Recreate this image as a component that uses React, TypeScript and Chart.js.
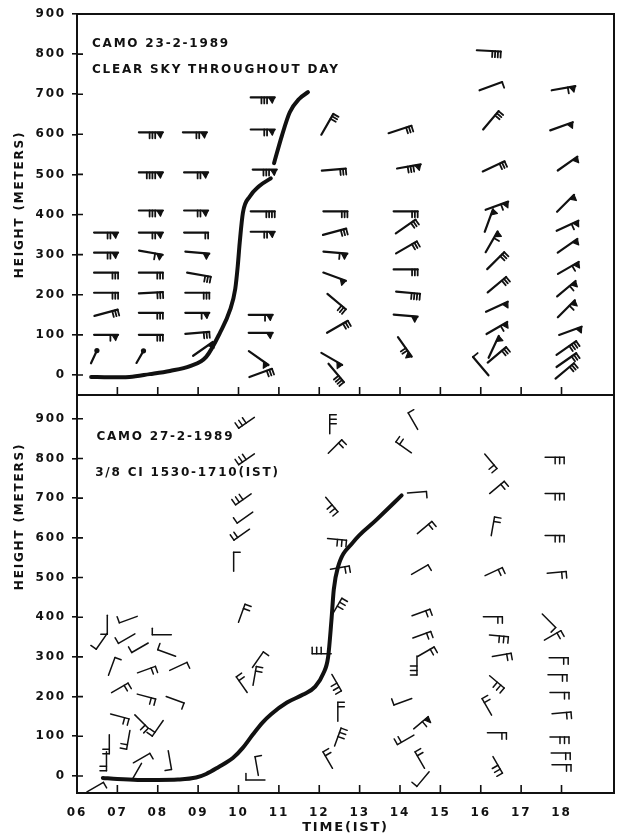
import React, { useEffect, useRef } from 'react';
import { Chart, registerables } from 'chart.js';

Chart.register(...registerables);

const FONT_FAMILY = "'DejaVu Sans', 'Liberation Sans', sans-serif";
const INK = '#111111';

// ---------- axes ----------
const TIME_MIN = 6;
const TIME_MAX = 19.3;
const timeTicks = [6, 7, 8, 9, 10, 11, 12, 13, 14, 15, 16, 17, 18];
const timeTickLabels = ['06', '07', '08', '09', '10', '11', '12', '13', '14', '15', '16', '17', '18'];
const heightTicks = [0, 100, 200, 300, 400, 500, 600, 700, 800, 900];

// ---------- top panel : CAMO 23-2-1989 ----------
const topMixTime = [6.35, 6.8, 7.3, 7.8, 8.3, 8.8, 9.2, 9.54, 9.79, 9.92, 9.98, 10.03, 10.11, 10.28, 10.5, 10.8, 10.83, 10.88, 11.07, 11.27, 11.5, 11.72];
const topMixHeight = [-5, -6, -5, 2, 10, 22, 45, 105, 162, 215, 270, 330, 405, 445, 470, 490, null, 528, 595, 655, 688, 705];

const topBarbTime = [
  6.72, 6.72, 6.72, 6.72, 6.72, 6.72,
  7.83, 7.83, 7.83, 7.83, 7.83, 7.83, 7.83, 7.83, 7.83,
  8.92, 8.95, 8.95, 8.95, 8.98, 9.02, 8.98, 8.98, 8.98, 9.12,
  10.6, 10.6, 10.65, 10.6, 10.6, 10.55, 10.55, 10.5, 10.55,
  12.2, 12.36, 12.4, 12.38, 12.4, 12.38, 12.43, 12.45, 12.31, 12.42,
  14.0, 14.22, 14.14, 14.14, 14.16, 14.14, 14.2, 14.14, 14.12,
  16.2, 16.25, 16.25, 16.32, 16.4, 16.2, 16.27, 16.37, 16.4, 16.4, 16.4, 16.32, 16.4, 16.0,
  18.05, 18.0, 18.15, 18.1, 18.15, 18.15, 18.17, 18.12, 18.12, 18.22, 18.12, 18.12, 18.08,
];
const topBarbHeight = [
  355, 305, 255, 205, 155, 100,
  605, 505, 410, 355, 305, 255, 205, 155, 100,
  605, 505, 410, 355, 305, 250, 205, 155, 105, 65,
  692, 612, 512, 408, 357, 150, 105, 42, 5,
  625, 512, 408, 357, 305, 245, 183, 120, 40, 5,
  612, 520, 408, 370, 318, 263, 205, 148, 70,
  808, 720, 635, 520, 422, 385, 332, 285, 225, 170, 117, 70, 50, 22,
  715, 620, 527, 428, 372, 322, 267, 215, 165, 110, 67, 37, 10,
];
const topBarbDir = [
  0, 0, 0, 0, 15, 0,
  0, 0, 0, 0, -10, 0, 3, 0, 0,
  0, 0, 0, 0, -5, -10, 0, 0, 5, 35,
  0, 0, 0, 0, 0, 0, 0, -35, 20,
  60, 5, 0, 15, -5, -20, -40, 30, -30, -50,
  18, 10, 0, 35, 30, 0, -5, -5, -55,
  -3, 20, 50, 25, 20, 70, 60, 45, 40, 25, 30, 65, 40, 130,
  10, 20, 35, 45, 25, 35, 30, 40, 45, 20, 35, 35, 40,
];
const topBarbTicks = [
  2, 2, 3, 3, 3, 1,
  3, 4, 3, 2, 1, 3, 3, 3, 3,
  2, 2, 2, 2, 0, 3, 3, 1, 3, 0,
  3, 2, 3, 4, 2, 1, 0, 0, 3,
  3, 3, 3, 3, 1, 0, 3, 3, 0, 4,
  3, 3, 3, 3, 3, 3, 4, 0, 2,
  4, 1, 3, 3, 1, 0, 1, 3, 3, 0, 1, 0, 3, 1,
  1, 0, 0, 0, 1, 0, 1, 1, 1, 0, 4, 3, 3,
];
const topBarbFlags = [
  1, 1, 0, 0, 0, 1,
  1, 1, 1, 1, 1, 0, 0, 0, 0,
  1, 1, 1, 0, 1, 0, 0, 1, 0, 1,
  1, 1, 1, 0, 1, 1, 1, 1, 0,
  0, 0, 0, 0, 1, 1, 0, 0, 1, 0,
  0, 1, 0, 0, 0, 0, 0, 1, 1,
  0, 0, 0, 0, 1, 1, 1, 0, 0, 1, 1, 1, 0, 0,
  1, 1, 1, 1, 1, 1, 1, 1, 1, 1, 0, 0, 0,
];
const topCalmTime = [6.42, 7.56];
const topCalmHeight = [45, 45];
const topCalmDir = [65, 60];

// ---------- bottom panel : CAMO 27-2-1989 ----------
const botMixTime = [6.64, 7.0, 7.5, 8.0, 8.5, 8.95, 9.2, 9.5, 9.86, 10.1, 10.36, 10.6, 10.8, 11.2, 11.6, 11.9, 12.1, 12.22, 12.3, 12.36, 12.46, 12.83, 13.42, 14.04];
const botMixHeight = [-5, -8, -10, -10, -9, -4, 5, 22, 45, 70, 105, 135, 155, 185, 205, 225, 258, 300, 390, 470, 525, 588, 646, 707];

const botBarbTime = [
  6.75, 7.27, 6.61, 7.23, 8.1, 6.86, 7.56, 8.22, 7.72, 8.51, 7.06, 7.72, 8.43, 7.06, 7.6, 8.0, 6.8, 6.73, 7.27, 7.6, 7.48, 8.3, 6.45,
  10.2, 10.2, 10.12, 10.16, 10.08, 9.88, 10.08, 10.48, 10.4, 10.08, 10.45, 10.42,
  12.26, 12.39, 12.31, 12.44, 12.51, 12.44, 12.06, 12.43, 12.46, 12.46, 12.21,
  14.32, 14.09, 14.42, 14.61, 14.49, 14.52, 14.54, 14.64, 14.42, 14.07, 14.52, 14.14, 14.49, 14.57,
  16.25, 16.4, 16.3, 16.32, 16.3, 16.45, 16.52, 16.4, 16.15, 16.4, 16.42,
  17.83, 17.83, 17.83, 17.88, 17.69, 17.78, 17.93, 17.9, 17.95, 18.0, 17.95, 17.98, 18.0,
];
const botBarbHeight = [
  381, 394, 339, 346, 356, 276, 323, 310, 268, 276, 222, 200, 192, 150, 137, 120, 80, 37, 91, 45, 11, 40, -28,
  890, 798, 697, 651, 608, 540, 410, 293, 252, 230, 25, -10,
  886, 830, 684, 596, 525, 427, 308, 235, 162, 98, 40,
  894, 828, 715, 626, 520, 412, 356, 313, 278, 187, 134, 91, 40, -8,
  793, 727, 629, 515, 401, 353, 305, 237, 174, 109, 28,
  803, 712, 606, 513, 391, 354, 298, 255, 210, 159, 98, 58, 28,
];
const botBarbDir = [
  -90, 200, 235, 210, 180, 70, 210, 160, 20, 25, 30, -15, -20, -15, -45, 235, -90, -90, -100, 30, 60, -80, 30,
  215, 215, 215, 215, 215, 90, 70, 55, 80, 125, 100, 180,
  90, 45, -50, -5, 10, 60, 180, -60, 90, 70, 120,
  120, 145, 5, 40, 30, 20, 20, 30, -90, -160, 40, -150, 120, -130,
  -50, 40, 80, 25, 0, -5, 10, -40, 120, 0, -60,
  0, 0, 0, 5, -45, 30, 0, 0, 0, 5, 0, 0, 0,
];
const botBarbTicks = [
  1, 1, 1, 1, 1, 1, 1, 1, 2, 1, 2, 2, 1, 2, 2, 2, 2, 2, 2, 1, 0, 1, 1,
  3, 3, 3, 1, 2, 1, 2, 1, 2, 2, 1, 1,
  3, 2, 3, 3, 2, 3, 3, 3, 2, 3, 2,
  1, 2, 1, 2, 1, 2, 2, 2, 3, 1, 1, 2, 2, 1,
  2, 2, 2, 2, 2, 3, 2, 3, 2, 2, 3,
  3, 3, 3, 2, 1, 2, 2, 2, 2, 2, 3, 2, 2,
];
const botBarbFlags = [
  0, 0, 0, 0, 0, 0, 0, 0, 0, 0, 0, 0, 0, 0, 0, 0, 0, 0, 0, 0, 0, 0, 0,
  0, 0, 0, 0, 0, 0, 0, 0, 0, 0, 0, 0,
  0, 0, 0, 0, 0, 0, 0, 0, 0, 0, 0,
  0, 0, 0, 0, 0, 0, 0, 0, 0, 0, 1, 0, 0, 0,
  0, 0, 0, 0, 0, 0, 0, 0, 0, 0, 0,
  0, 0, 0, 0, 0, 0, 0, 0, 0, 0, 0, 0, 0,
];

// ---------- drawing styles ----------
const TOP_BARB = { len: 24, tick: 6, gap: 2.8, flagW: 6, staff: 2.2, tickW: 1.8 };
const BOT_BARB = { len: 19, tick: 6.5, gap: 4.5, flagW: 5, staff: 1.5, tickW: 1.5 };
const CALM_BARB = { len: 14, tick: 0, gap: 0, flagW: 0, staff: 2.2, tickW: 2, dot: 2.6 };
const LETTER_SPACING = '1.8px';

function drawBarb(ctx: CanvasRenderingContext2D, cx: number, cy: number, deg: number, ticks: number, flags: number, s: any) {
  const a = (deg * Math.PI) / 180;
  const dx = Math.cos(a);
  const dy = -Math.sin(a);
  const nx = -dy;
  const ny = dx;
  const hx = cx + (dx * s.len) / 2;
  const hy = cy + (dy * s.len) / 2;
  const tx = cx - (dx * s.len) / 2;
  const ty = cy - (dy * s.len) / 2;
  ctx.strokeStyle = INK;
  ctx.fillStyle = INK;
  ctx.lineCap = 'round';
  ctx.lineJoin = 'round';
  ctx.lineWidth = s.staff;
  ctx.beginPath();
  ctx.moveTo(tx, ty);
  ctx.lineTo(hx, hy);
  ctx.stroke();
  if (s.dot) {
    ctx.beginPath();
    ctx.arc(hx, hy, s.dot, 0, Math.PI * 2);
    ctx.fill();
  }
  let pos = 0;
  for (let i = 0; i < flags; i++) {
    const p0x = hx - dx * pos, p0y = hy - dy * pos;
    const p1x = hx - dx * (pos + s.flagW), p1y = hy - dy * (pos + s.flagW);
    const apx = hx - dx * (pos + s.flagW * 0.4) + nx * s.tick * 0.95;
    const apy = hy - dy * (pos + s.flagW * 0.4) + ny * s.tick * 0.95;
    ctx.beginPath();
    ctx.moveTo(p0x, p0y);
    ctx.lineTo(p1x, p1y);
    ctx.lineTo(apx, apy);
    ctx.closePath();
    ctx.fill();
    ctx.lineWidth = 1.2;
    ctx.stroke();
    pos += s.flagW + s.gap * 0.6;
  }
  ctx.lineWidth = s.tickW;
  for (let i = 0; i < ticks; i++) {
    const px = hx - dx * pos, py = hy - dy * pos;
    ctx.beginPath();
    ctx.moveTo(px, py);
    ctx.lineTo(px + nx * s.tick, py + ny * s.tick);
    ctx.stroke();
    pos += s.gap;
  }
}

const barbPlugin = {
  id: 'windBarbs',
  afterDatasetsDraw(chart: any) {
    const ctx = chart.ctx;
    chart.data.datasets.forEach((ds: any, di: number) => {
      if (!ds.barb) return;
      const meta = chart.getDatasetMeta(di);
      ctx.save();
      meta.data.forEach((pt: any, i: number) => {
        const b = ds.barb;
        drawBarb(ctx, pt.x, pt.y, b.dir[i], b.ticks ? b.ticks[i] : 0, b.flags ? b.flags[i] : 0, b.style);
      });
      ctx.restore();
    });
  },
};

const spacingPlugin = {
  id: 'letterSpacing',
  beforeDraw(chart: any) {
    chart.ctx.letterSpacing = LETTER_SPACING;
  },
  afterDraw(chart: any) {
    chart.ctx.letterSpacing = '0px';
  },
};

const framePlugin = {
  id: 'frame',
  afterDraw(chart: any) {
    const { ctx, chartArea, scales } = chart;
    const { left, right, top, bottom } = chartArea;
    ctx.save();
    ctx.strokeStyle = INK;
    ctx.lineWidth = 2;
    ctx.beginPath();
    ctx.moveTo(left - 1, top);
    ctx.lineTo(right, top);
    ctx.lineTo(right, bottom + 1);
    ctx.stroke();
    ctx.lineWidth = 1.6;
    ctx.beginPath();
    scales.x.ticks.forEach((t: any) => {
      if (t.value <= TIME_MIN || t.value > 18) return;
      const px = scales.x.getPixelForValue(t.value);
      ctx.moveTo(px, bottom);
      ctx.lineTo(px, bottom - 8);
    });
    scales.y.ticks.forEach((t: any) => {
      const py = scales.y.getPixelForValue(t.value);
      ctx.moveTo(left, py);
      ctx.lineTo(left + 6, py);
    });
    ctx.stroke();
    ctx.restore();
  },
};

const notesPlugin = {
  id: 'notes',
  afterDraw(chart: any, _args: any, opts: any) {
    const { ctx, scales } = chart;
    ctx.save();
    ctx.fillStyle = INK;
    ctx.font = `bold 12px ${FONT_FAMILY}`;
    ctx.textBaseline = 'middle';
    ctx.textAlign = 'left';
    ctx.letterSpacing = '1.8px';
    (opts.items || []).forEach((it: any) => {
      ctx.fillText(it.text, scales.x.getPixelForValue(it.x), scales.y.getPixelForValue(it.y));
    });
    ctx.restore();
  },
};

const baseFont = { family: FONT_FAMILY, size: 12, weight: 'bold' as const };

function makeConfig(panel: 'top' | 'bottom') {
  const isTop = panel === 'top';
  const mixT = isTop ? topMixTime : botMixTime;
  const mixH = isTop ? topMixHeight : botMixHeight;
  const bT = isTop ? topBarbTime : botBarbTime;
  const bH = isTop ? topBarbHeight : botBarbHeight;
  const datasets: any[] = [
    {
      label: 'mixing height',
      data: mixT.map((x, i) => ({ x, y: mixH[i] })),
      showLine: true,
      borderColor: INK,
      borderWidth: 4,
      pointRadius: 0,
      cubicInterpolationMode: 'monotone',
      borderCapStyle: 'round',
      spanGaps: false,
    },
    {
      label: 'wind',
      data: bT.map((x, i) => ({ x, y: bH[i] })),
      showLine: false,
      pointRadius: 0,
      barb: {
        dir: isTop ? topBarbDir : botBarbDir,
        ticks: isTop ? topBarbTicks : botBarbTicks,
        flags: isTop ? topBarbFlags : botBarbFlags,
        style: isTop ? TOP_BARB : BOT_BARB,
      },
    },
  ];
  if (isTop) {
    datasets.push({
      label: 'calm',
      data: topCalmTime.map((x, i) => ({ x, y: topCalmHeight[i] })),
      showLine: false,
      pointRadius: 0,
      barb: { dir: topCalmDir, style: CALM_BARB },
    });
  }
  const notes = isTop
    ? [
        { x: 6.37, y: 825, text: 'CAMO 23-2-1989' },
        { x: 6.37, y: 760, text: 'CLEAR SKY THROUGHOUT DAY' },
      ]
    : [
        { x: 6.48, y: 855, text: 'CAMO 27-2-1989' },
        { x: 6.45, y: 764, text: '3/8 CI 1530-1710(IST)' },
      ];
  return {
    type: 'scatter' as const,
    data: { datasets },
    plugins: [spacingPlugin, barbPlugin, framePlugin, notesPlugin],
    options: {
      animation: false as const,
      responsive: false,
      events: [],
      layout: { padding: { top: isTop ? 14 : 15, right: 8, left: 0, bottom: 0 } },
      plugins: {
        legend: { display: false },
        tooltip: { enabled: false },
        notes: { items: notes },
      },
      scales: {
        x: {
          type: 'linear' as const,
          min: TIME_MIN,
          max: TIME_MAX,
          afterBuildTicks: (s: any) => {
            s.ticks = timeTicks.map((v) => ({ value: v }));
          },
          ticks: {
            display: !isTop,
            autoSkip: false,
            maxRotation: 0,
            color: INK,
            font: baseFont,
            padding: 5,
            callback: (v: any) => {
              const i = timeTicks.indexOf(Math.round(Number(v)));
              return i >= 0 ? timeTickLabels[i] : '';
            },
          },
          grid: { display: false },
          border: { display: true, color: INK, width: 2 },
          title: {
            display: !isTop,
            text: 'TIME(IST)',
            color: INK,
            font: { ...baseFont, size: 13 },
            padding: { top: 0, bottom: 2 },
          },
          afterFit: (s: any) => {
            s.height = isTop ? 15 : 44;
          },
        },
        y: {
          type: 'linear' as const,
          min: isTop ? -50 : -43,
          max: isTop ? 900 : 960,
          afterBuildTicks: (s: any) => {
            s.ticks = heightTicks.map((v) => ({ value: v }));
          },
          ticks: { color: INK, font: baseFont, padding: 6 },
          grid: { display: true, drawOnChartArea: false, drawTicks: true, tickLength: 5, color: INK, lineWidth: 1.6 },
          border: { display: true, color: INK, width: 2 },
          title: {
            display: true,
            text: isTop ? 'HEIGHT (METERS)' : 'HEIGHT (METERS)        ',
            align: isTop ? ('center' as const) : ('end' as const),
            color: INK,
            font: baseFont,
            padding: { top: 13, bottom: 0 },
          },
          afterFit: (s: any) => {
            s.width = 77;
          },
        },
      },
    },
  };
}

export default function App() {
  const topRef = useRef<HTMLCanvasElement | null>(null);
  const botRef = useRef<HTMLCanvasElement | null>(null);

  useEffect(() => {
    const charts: Chart[] = [];
    if (topRef.current) charts.push(new Chart(topRef.current, makeConfig('top') as any));
    if (botRef.current) charts.push(new Chart(botRef.current, makeConfig('bottom') as any));
    return () => charts.forEach((c) => c.destroy());
  }, []);

  return (
    <div style={{ position: 'fixed', left: 0, top: 0, width: 622, height: 837, background: '#ffffff' }}>
      <canvas ref={topRef} width={622} height={410} style={{ position: 'absolute', left: 0, top: 0 }} />
      <canvas ref={botRef} width={622} height={457} style={{ position: 'absolute', left: 0, top: 380 }} />
    </div>
  );
}
